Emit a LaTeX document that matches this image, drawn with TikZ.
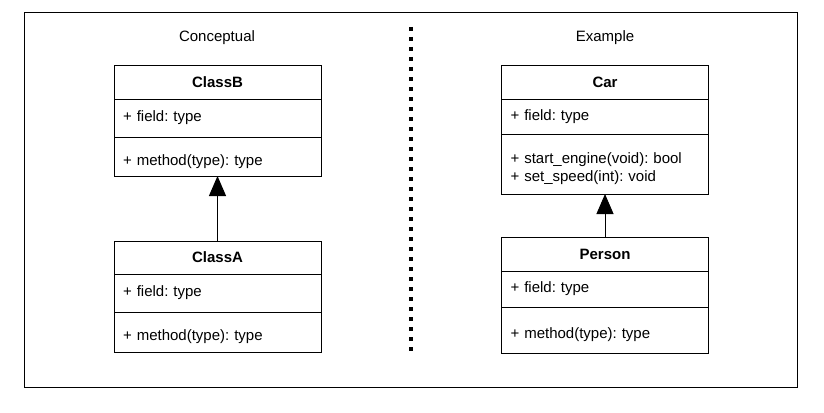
\documentclass[tikz,border=0pt]{standalone}
\usepackage{fontspec}
\setmainfont{Liberation Sans}
\usetikzlibrary{positioning,arrows.meta}
\frenchspacing

\tikzstyle{title}=[rectangle,draw=black,line width=1pt,outer sep=0pt,inner sep=0pt,minimum width=207pt,minimum height=33pt,font=\fontsize{15}{18}\selectfont\bfseries]
\tikzstyle{member}=[rectangle,draw=black,line width=1pt,outer sep=0pt,inner xsep=9pt,inner ysep=0pt,text width=189pt,align=left,font=\fontsize{15}{18}\selectfont\frenchspacing]
\tikzstyle{methods}=[member,execute at begin node={\rule{0pt}{21pt}}]
\tikzstyle{heading}=[font=\fontsize{15}{18}\selectfont]
\tikzstyle{inherit}=[-{Triangle[width=17pt,length=20pt]},line width=1pt]

\begin{document}
\begin{tikzpicture}[x=1pt,y=-1pt]
\useasboundingbox (0,0) rectangle (824,412);
\draw[line width=1pt](24,13) rectangle (797,387);
\node(conceptual)[heading] at (217,38){Conceptual};
\node(example)[heading] at (605,38){Example};
\coordinate(dottop) at (411,27);
\coordinate(dotbottom) at (411,351);
\draw[line width=4pt,dash pattern=on 4pt off 6pt](dottop)--(dotbottom);
% conceptual
\node(classB)[title] at (217.5,82.5){ClassB};
\node(classBfield)[member,minimum height=38pt,below=0pt of classB]{+ field: type};
\node(classBmethod)[methods,minimum height=39pt,below=0pt of classBfield]{+ method(type): type};
\node(classA)[title] at (217.5,257.5){ClassA};
\node(classAfield)[member,minimum height=38pt,below=0pt of classA]{+ field: type};
\node(classAmethod)[methods,minimum height=40pt,below=0pt of classAfield]{+ method(type): type};
\draw[inherit](classA.north)--(classBmethod.south);
% example
\node(car)[title] at (605,82.5){Car};
\node(carfield)[member,minimum height=35pt,below=0pt of car]{+ field: type};
\node(carmethod)[methods,minimum height=60pt,below=0pt of carfield]{+ start\_engine(void): bool\\+ set\_speed(int): void};
\node(person)[title,minimum height=34pt] at (605,254){Person};
\node(personfield)[member,minimum height=36pt,below=0pt of person]{+ field: type};
\node(personmethod)[methods,minimum height=46pt,below=0pt of personfield]{+ method(type): type};
\draw[inherit](person.north)--(carmethod.south);
\end{tikzpicture}
\end{document}
